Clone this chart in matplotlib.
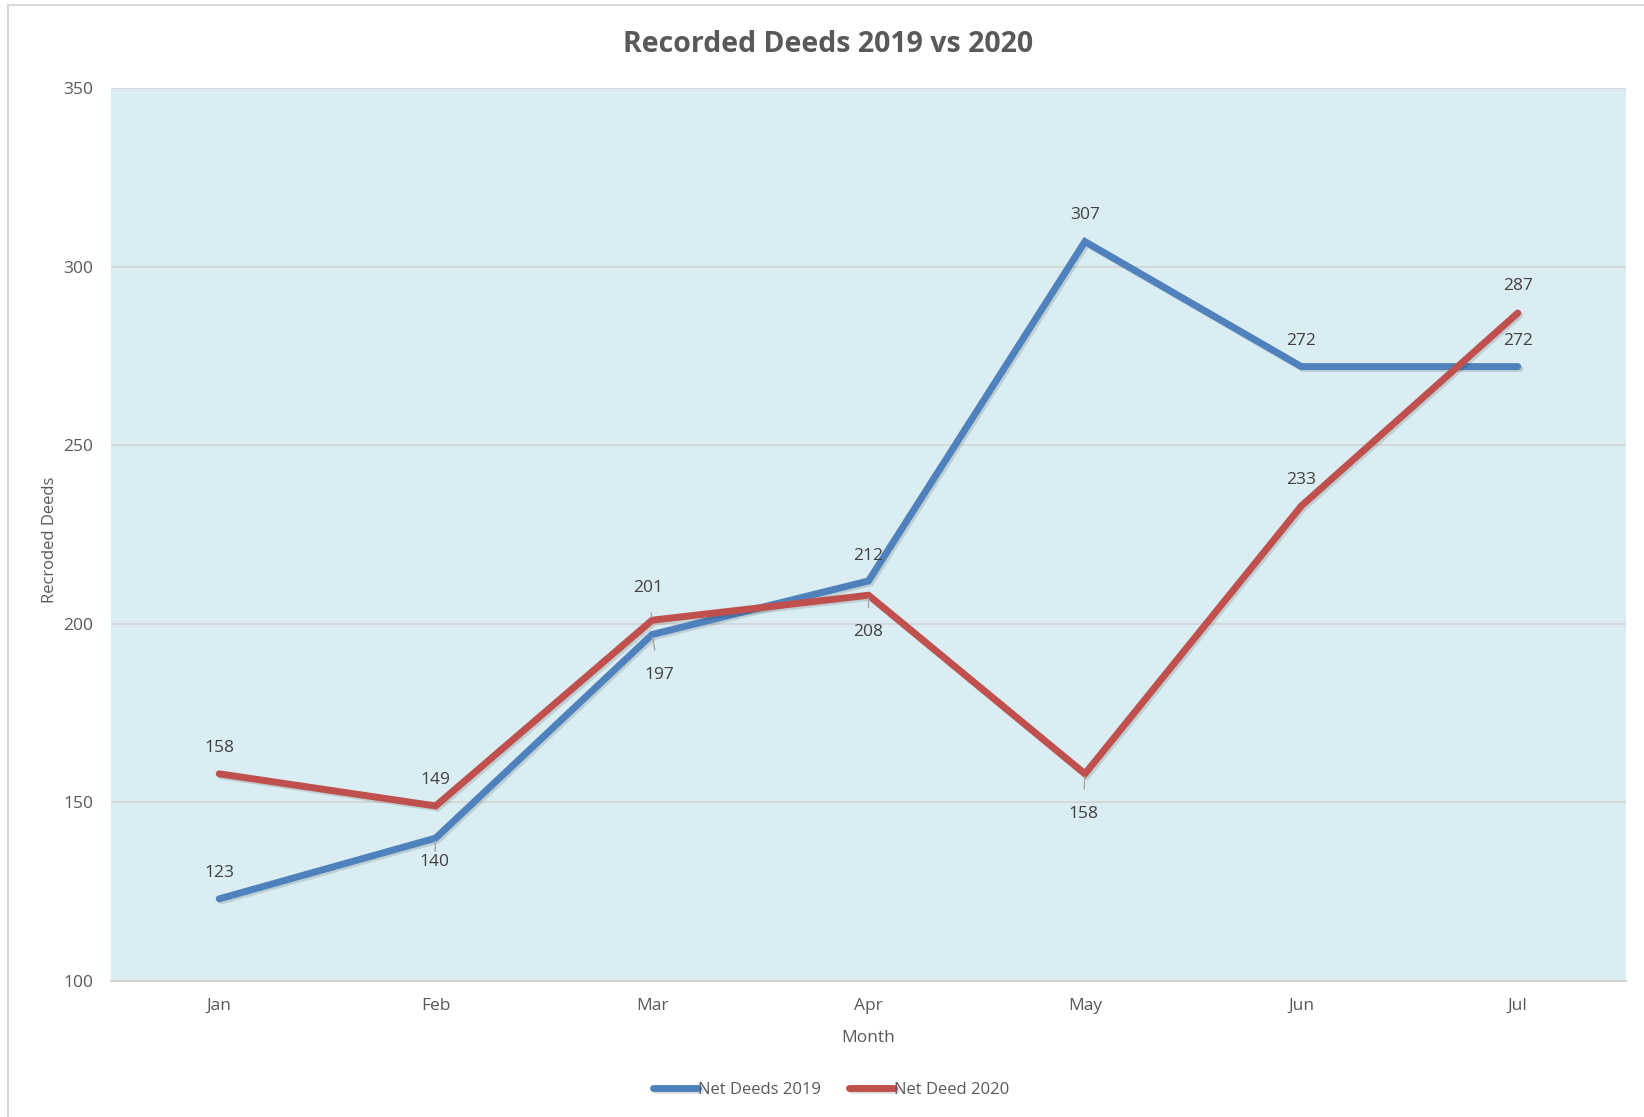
import matplotlib.pyplot as plt
import matplotlib.patheffects as pe
from matplotlib.patches import Rectangle

months = ['Jan', 'Feb', 'Mar', 'Apr', 'May', 'Jun', 'Jul']
deeds_2019 = [123, 140, 197, 212, 307, 272, 272]
deeds_2020 = [158, 149, 201, 208, 158, 233, 287]

# label offsets in pixels (dx, dy), positive dy = up
off_2019 = [(0, 26), (-1, -24), (7, -40), (0, 25), (0, 27), (0, 26), (0, 26)]
off_2020 = [(0, 26), (0, 26), (-4, 32), (0, -37), (-2, -40), (0, 26), (0, 27)]
leader_2019 = [False, True, True, False, False, False, False]
leader_2020 = [False, False, True, True, True, False, False]

plt.rcParams['font.family'] = ['Open Sans', 'DejaVu Sans']

fig = plt.figure(figsize=(16.44, 11.17), dpi=100)
W, H = 1644, 1117

# outer chart frame
fig.patches.append(Rectangle((8 / W, -0.01), 1.0, 1 - 5 / H + 0.01, transform=fig.transFigure,
                             fill=False, edgecolor='#d9d9d9', linewidth=1.5))

ax = fig.add_axes([111 / W, 1 - 981 / H, (1626 - 111) / W, (981 - 88) / H])
ax.set_facecolor('#daedf3')
x = list(range(len(months)))
ax.set_xlim(-0.5, 6.5)
ax.set_ylim(100, 350)

ax.hlines([150, 200, 250, 300, 350], -0.5, 6.5, colors='#d4d4d4', linewidth=1.2, zorder=1)

shadow = [pe.SimpleLineShadow(offset=(1.5, -1.5), alpha=0.12), pe.Normal()]
ax.plot(x, deeds_2019, color='#4f81bd', linewidth=5, solid_capstyle='round',
        solid_joinstyle='miter', label='Net Deeds 2019', zorder=3, path_effects=shadow)
ax.plot(x, deeds_2020, color='#c0504d', linewidth=5, solid_capstyle='round',
        solid_joinstyle='miter', label='Net Deed 2020', zorder=4, path_effects=shadow)

for vals, offs, leads in [(deeds_2019, off_2019, leader_2019), (deeds_2020, off_2020, leader_2020)]:
    for i, v in enumerate(vals):
        dx, dy = offs[i]
        kw = {}
        if leads[i]:
            kw['arrowprops'] = dict(arrowstyle='-', color='#a6a6a6', lw=1, shrinkA=10, shrinkB=2)
        ax.annotate(str(v), (i, v), xytext=(dx, dy), textcoords='offset pixels',
                    ha='center', va='center', fontsize=12.5, color='#404040', zorder=5, **kw)

for s in ['top', 'right', 'left']:
    ax.spines[s].set_visible(False)
ax.spines['bottom'].set_color('#d4d4d4')
ax.spines['bottom'].set_linewidth(1.5)

ax.set_xticks(x)
ax.set_xticklabels(months)
ax.set_yticks([100, 150, 200, 250, 300, 350])
ax.tick_params(length=0, labelsize=12.5, labelcolor='#595959')
ax.tick_params(axis='x', pad=12)
ax.tick_params(axis='y', pad=13)

ax.set_xlabel('Month', fontsize=12.5, color='#595959', labelpad=12)
fig.text(50 / W, 1 - 540 / H, 'Recroded Deeds', rotation=90, ha='center', va='center',
         fontsize=12, color='#595959')
fig.text(828 / W, 1 - 45 / H, 'Recorded Deeds 2019 vs 2020', ha='center', va='center',
         fontsize=20.5, fontweight='bold', color='#595959')

leg = fig.legend(loc='center', bbox_to_anchor=(831 / W, 1 - 1090 / H), ncol=2, frameon=False,
                 fontsize=12, handlelength=2.7, handletextpad=0.0, columnspacing=1.7)
for t in leg.get_texts():
    t.set_color('#595959')

fig.savefig('out.png', dpi=100)
